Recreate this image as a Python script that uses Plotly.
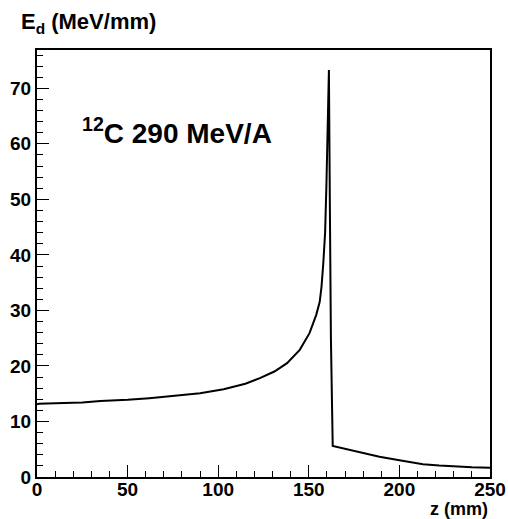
import plotly.graph_objects as go

# depth (mm) and deposited energy (MeV/mm)
z_mm = [0, 1, 10, 25, 35, 50, 62, 80, 90, 103, 115, 123, 131, 138, 145, 150.4,
        154.1, 156, 157, 158, 159, 159.7, 160.5, 161.1,
        161.6, 162.2, 163.2, 175, 189, 200, 213, 222, 230, 240, 250]
edep = [13.1, 13.2, 13.3, 13.4, 13.7, 13.9, 14.2, 14.8, 15.1, 15.8, 16.8, 17.8, 19.0, 20.5, 22.9, 25.9,
        29.2, 31.5, 34.2, 38.5, 44.0, 52.3, 63.0, 73.3,
        50.0, 25.0, 5.6, 4.7, 3.66, 3.0, 2.3, 2.05, 1.86, 1.75, 1.68]

x_ticks = [0, 50, 100, 150, 200, 250]
y_ticks = [0, 10, 20, 30, 40, 50, 60, 70]

FONT = "Arial"

fig = go.Figure()
fig.add_trace(go.Scatter(x=z_mm, y=edep, mode="lines",
                         line=dict(color="black", width=2), showlegend=False,
                         hoverinfo="skip"))

axis_common = dict(showgrid=False, zeroline=False, showline=True, linecolor="black",
                   linewidth=2, mirror=True, ticks="inside", ticklen=12, tickwidth=1,
                   tickcolor="black", automargin=False,
                   tickfont=dict(family=FONT, size=19, color="black", weight=700))

fig.update_xaxes(range=[0, 250], tickvals=x_ticks, ticktext=[str(v) for v in x_ticks],
                 ticklabelstandoff=-6,
                 minor=dict(dtick=10, ticklen=6, ticks="inside", tickcolor="black", tickwidth=1),
                 **axis_common)
fig.update_yaxes(range=[0, 76.9], tickvals=y_ticks, ticktext=[str(v) for v in y_ticks],
                 minor=dict(dtick=2, ticklen=6, ticks="inside", tickcolor="black", tickwidth=1),
                 **axis_common)

fig.update_layout(
    width=508, height=519,
    margin=dict(l=37, r=18, t=50, b=42),
    paper_bgcolor="white", plot_bgcolor="white",
    annotations=[
        dict(text="E<sub>d</sub> (MeV/mm)", xref="paper", yref="paper", x=-0.04, y=1.0,
             yshift=27, xanchor="left", yanchor="middle", showarrow=False,
             font=dict(family=FONT, size=22, color="black", weight=700)),
        dict(text="z (mm)", xref="paper", yref="paper", x=1.0, y=0, yshift=-32,
             xanchor="right", yanchor="middle", showarrow=False,
             font=dict(family=FONT, size=18, color="black", weight=700)),
        dict(text="<sup>12</sup>C 290 MeV/A", xref="paper", yref="paper", x=0.095, y=0.81,
             xanchor="left", yanchor="middle", showarrow=False,
             font=dict(family=FONT, size=28, color="black", weight=700)),
    ],
)

fig.write_html("out.html")
